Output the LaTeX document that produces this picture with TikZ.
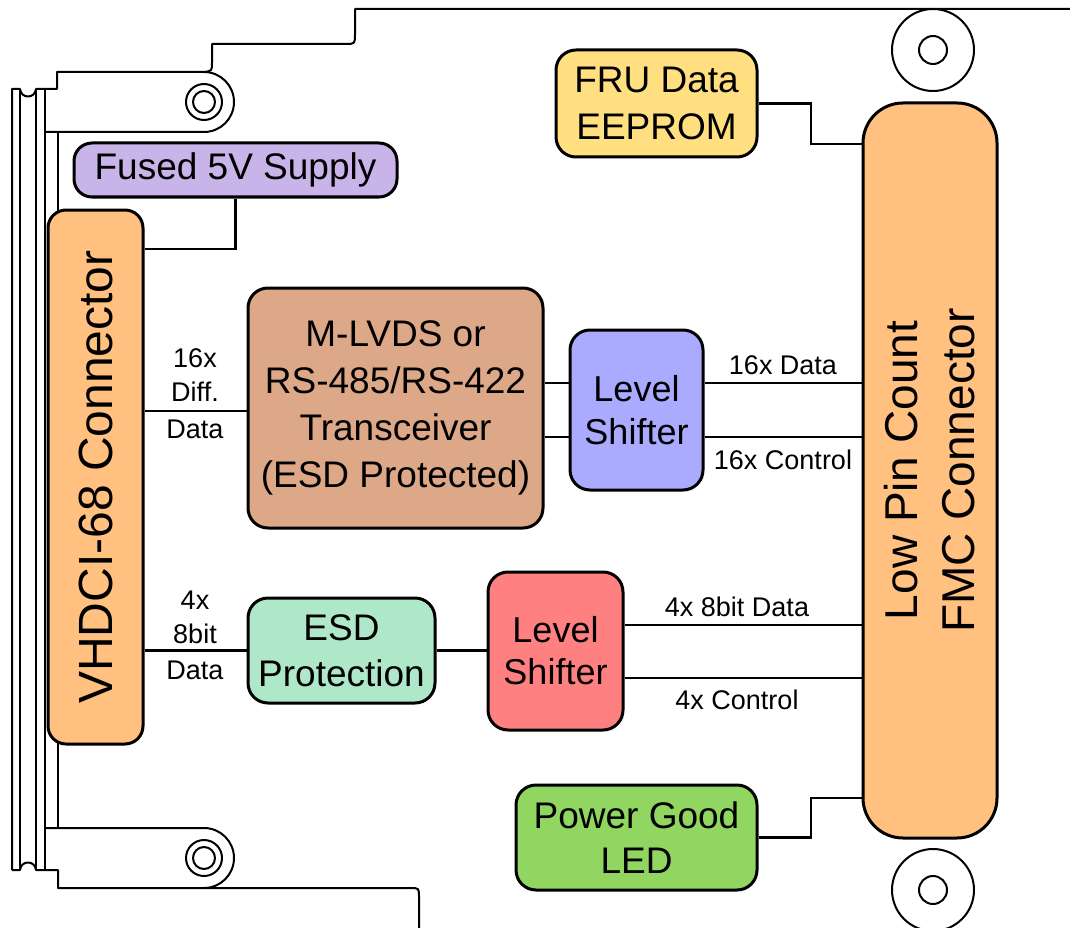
\documentclass[tikz,border=0pt]{standalone}
\usepackage{fontspec}
\setmainfont{Liberation Sans}
\usetikzlibrary{backgrounds}
\definecolor{cfused}{HTML}{C8B4E8}
\definecolor{corange}{HTML}{FFC080}
\definecolor{ctrx}{HTML}{DDA888}
\definecolor{clsa}{HTML}{AAAAFF}
\definecolor{cesd}{HTML}{AEE8C8}
\definecolor{clsb}{HTML}{FF8080}
\definecolor{cfru}{HTML}{FFDF80}
\definecolor{cpg}{HTML}{90D660}
\begin{document}
\begin{tikzpicture}[x=1pt,y=-1pt,
  outl/.style={line width=2pt, line join=round},
  conn/.style={line width=2.6pt},
  blk/.style={draw, line width=3pt, rounded corners=20pt, inner sep=0pt, align=center},
  big/.style={font=\fontsize{37}{46}\selectfont},
  lbl/.style={font=\fontsize{27}{33}\selectfont, inner sep=0pt, text height=19.5pt, text depth=0pt}]
\useasboundingbox (0,0) rectangle (1070,928);

% board outline
\draw[outl] (1070,9) -- (355,9) -- (355,34) .. controls (355,44) .. (345,44) -- (212,44) -- (212,62) .. controls (212,71) .. (204,72);
\draw[outl] (12,870) -- (12,89) -- (20,89) .. controls (21,99) and (35,99) .. (36,89) -- (57,89) -- (57,72) -- (204,72) arc[start angle=-90, end angle=90, radius=30] -- (45,132);
\draw[outl] (12,870) -- (20,870) .. controls (21,860) and (35,860) .. (36,870) -- (58,870) -- (58,888) -- (410,888) .. controls (419,888) .. (419,897) -- (419,928);
\draw[outl] (204,888) arc[start angle=90, end angle=-90, radius=30] -- (45,828);
\draw[outl] (20,89) -- (20,870) (36,89) -- (36,870) (45,89) -- (45,870) (58,132) -- (58,828);
% holes
\draw[outl] (204,102) circle[radius=18] (204,102) circle[radius=11];
\draw[outl] (204,858) circle[radius=18] (204,858) circle[radius=11];
\draw[outl] (933,50) circle[radius=41] (933,50) circle[radius=14];
\draw[outl] (933,890) circle[radius=41] (933,890) circle[radius=14];

% blocks
\node[blk, fill=cfused, rounded corners=18pt, minimum width=323pt, minimum height=54pt, big] (fused) at (235.5,170) {Fused 5V Supply};
\node[blk, fill=corange, rounded corners=18pt, minimum width=95pt, minimum height=534pt] (vhdci) at (95.5,477) {};
\node[blk, fill=ctrx, minimum width=295pt, minimum height=240pt, font=\fontsize{37}{47}\selectfont] (trx) at (395.5,408) {M-LVDS or\\RS-485/RS-422\\Transceiver\\(ESD Protected)};
\node[blk, fill=clsa, minimum width=133pt, minimum height=160pt, font=\fontsize{36}{43}\selectfont] (lsa) at (636.5,410) {Level\\Shifter};
\node[blk, fill=cesd, minimum width=187pt, minimum height=105pt, font=\fontsize{37}{46}\selectfont] (esd) at (341.5,650.5) {ESD\\Protection};
\node[blk, fill=clsb, minimum width=135pt, minimum height=158pt, font=\fontsize{36}{42}\selectfont] (lsb) at (555.5,651) {Level\\Shifter};
\node[blk, fill=corange, rounded corners=40pt, minimum width=134pt, minimum height=735pt] (fmc) at (930,470.5) {};
\node[blk, fill=cfru, minimum width=201pt, minimum height=107pt, font=\fontsize{37}{47}\selectfont] (fru) at (656.5,103.5) {FRU Data\\EEPROM};
\node[blk, fill=cpg, minimum width=241pt, minimum height=105pt, font=\fontsize{37}{45}\selectfont] (pg) at (636.5,837.5) {Power Good\\LED};

\node[font=\fontsize{48}{58}\selectfont, rotate=90, inner sep=0pt] (vhdcitext) at (vhdci.center) {VHDCI-68 Connector};
\node[font=\fontsize{46}{57}\selectfont, rotate=90, inner sep=0pt, align=center] (fmctext) at (fmc.center) {Low Pin Count\\FMC Connector};

% labels
\node[lbl] (la1) at (195,358) {16x};
\node[lbl] (la2) at (195,392) {Diff.};
\node[lbl] (la3) at (195,429) {Data};
\node[lbl] (lb1) at (195,600) {4x};
\node[lbl] (lb2) at (195,634) {8bit};
\node[lbl] (lb3) at (195,670) {Data};
\node[lbl] (lc1) at (783,365) {16x Data};
\node[lbl] (lc2) at (783,460) {16x Control};
\node[lbl] (ld1) at (737,607) {4x 8bit Data};
\node[lbl] (ld2) at (737,700) {4x Control};

% connectors
\coordinate (y5v) at (0,249);
\coordinate (yA) at (0,383);
\coordinate (yB) at (0,437);
\coordinate (yC) at (0,625);
\coordinate (yD) at (0,678);
\coordinate (yF) at (0,144);
\coordinate (yG) at (0,798);
\coordinate (xk) at (811,0);
\begin{scope}[on background layer]
\draw[conn] (fused.south) |- (vhdci.east |- y5v);
\draw[conn] (vhdci.east |- 0,411) -- (trx.west |- 0,411);
\draw[conn] (trx.east |- yA) -- (lsa.west |- yA);
\draw[conn] (trx.east |- yB) -- (lsa.west |- yB);
\draw[conn] (lsa.east |- yA) -- (fmc.west |- yA);
\draw[conn] (lsa.east |- yB) -- (fmc.west |- yB);
\draw[conn] (vhdci.east |- esd.west) -- (esd.west);
\draw[conn] (esd.east) -- (lsb.west |- esd.east);
\draw[conn] (lsb.east |- yC) -- (fmc.west |- yC);
\draw[conn] (lsb.east |- yD) -- (fmc.west |- yD);
\draw[conn] (fru.east) -| (xk |- yF) -- (fmc.west |- yF);
\draw[conn] (pg.east) -| (xk |- yG) -- (fmc.west |- yG);
\end{scope}
\end{tikzpicture}
\end{document}
